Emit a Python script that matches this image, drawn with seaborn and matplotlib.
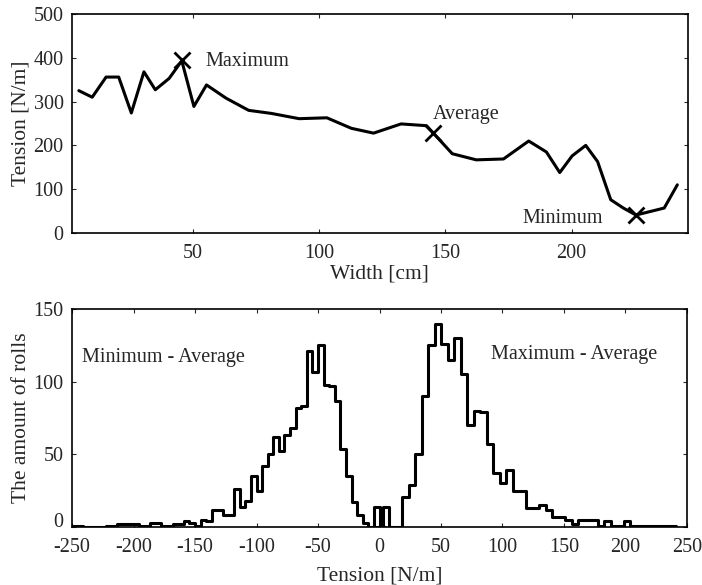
import numpy as np
import matplotlib
matplotlib.use("Agg")
import matplotlib.pyplot as plt
import pandas as pd
import seaborn as sns

# top panel: tension profile across the roll width
width_cm = [4.7, 10, 15.5, 20.5, 25.5, 30.5, 35, 40.5, 45.5, 50.3, 55.3, 63, 72, 81, 92, 103,
            112.7, 121.5, 132.4, 142.5, 152.7, 162.2, 173, 183, 190, 195.3, 200.2, 205.6,
            210.3, 215.5, 220.5, 225.5, 236.7, 241.9]
tension = [325, 310, 356, 356, 274, 368, 327, 353, 393, 289, 338, 308, 280, 273, 261, 263,
           239, 228, 249, 245, 181, 167, 169, 210, 185, 138, 176, 200,
           163, 76, 57, 41, 57, 110]

mark_names = ["Maximum", "Average", "Minimum"]
mark_x = [45.5, 145, 225.5]
mark_y = [395, 229, 41]
mark_text_x = [55, 145, 180.5]
mark_text_y = [392, 270, 34]

# bottom panel: histograms (counts per bin)
min_avg_start, min_avg_width = -250, 250 / 55
min_avg_counts = [1, 1, 0, 0, 0, 0, 1, 1, 2, 2,
                  2, 2, 1, 1, 3, 3, 1, 1, 2, 2,
                  4, 3, 1, 5, 4, 12, 12, 8, 8, 26,
                  14, 18, 35, 25, 42, 50, 62, 52, 63, 68,
                  82, 83, 121, 107, 125, 98, 97, 87, 54, 35,
                  17, 8, 3, 0, 14, 0]
max_avg_start, max_avg_width = 2.5 - 5.3, 5.3
max_avg_counts = [0, 14, 0, 0, 21, 29, 50, 90, 125, 140, 126,
                  115, 130, 105, 70, 80, 79, 57, 37, 30, 39,
                  25, 25, 13, 13, 15, 12, 7, 7, 5, 2,
                  5, 5, 5, 1, 4, 1, 1, 4, 1, 1,
                  1, 1, 1, 1, 1]

sns.set_style("ticks")
plt.rcParams["font.family"] = ["Liberation Serif", "DejaVu Serif"]
plt.rcParams["axes.unicode_minus"] = False
fs = 14.5
fs_lab = 15.5

fig = plt.figure(figsize=(7.02, 5.85), dpi=100)
ax1 = fig.add_axes([0.1026, 0.6017, 0.877, 0.3744])
ax2 = fig.add_axes([0.1026, 0.0991, 0.876, 0.3726])

sns.lineplot(x=width_cm, y=tension, ax=ax1, color="black", linewidth=2.2, sort=False)
ax1.plot(mark_x, mark_y, linestyle="none", marker="x", markersize=11, mew=2, color="black")
for name, tx, ty in zip(mark_names, mark_text_x, mark_text_y):
    ax1.text(tx, ty, name, fontsize=fs, va="center", ha="left")
ax1.set_xlim(2, 246)
ax1.set_ylim(0, 500)
ax1.set_xticks([50, 100, 150, 200])
ax1.set_yticks(range(0, 501, 100))
ax1.set_xlabel("Width [cm]", fontsize=fs_lab, labelpad=1)
ax1.set_ylabel("Tension [N/m]", fontsize=fs_lab, labelpad=2)

for start, w, counts in [(min_avg_start, min_avg_width, min_avg_counts),
                         (max_avg_start, max_avg_width, max_avg_counts)]:
    edges = (start + w * np.arange(len(counts) + 1)).tolist()
    centers = [(a + b) / 2 for a, b in zip(edges[:-1], edges[1:])]
    df = pd.DataFrame({"x": centers, "n": counts})
    sns.histplot(data=df, x="x", weights="n", bins=edges, element="step", fill=False,
                 color="black", linewidth=2.2, ax=ax2)

ax2.text(-242, 117, "Minimum - Average", fontsize=fs, va="center", ha="left")
ax2.text(91, 118.5, "Maximum - Average", fontsize=fs, va="center", ha="left")
ax2.set_xlim(-250, 250)
ax2.set_ylim(0, 150)
ax2.set_xticks(range(-250, 251, 50))
ax2.set_yticks([0, 50, 100, 150])
ax2.set_xlabel("Tension [N/m]", fontsize=fs_lab, labelpad=7)
ax2.set_ylabel("The amount of rolls", fontsize=fs_lab, labelpad=2)

for ax in (ax1, ax2):
    ax.tick_params(direction="in", top=True, right=True, length=3, width=0.8,
                   labelsize=fs)
    ax.tick_params(axis="x", pad=8)
    ax.tick_params(axis="y", pad=6)
    for sp in ax.spines.values():
        sp.set_linewidth(1.2)
        sp.set_color("black")

# lift the "0" count label so it clears the -250 tick label below it
fig.canvas.draw()
for lbl in ax2.get_yticklabels():
    if lbl.get_text() == "0":
        lbl.set_va("baseline")

fig.savefig("out.png", dpi=100)
